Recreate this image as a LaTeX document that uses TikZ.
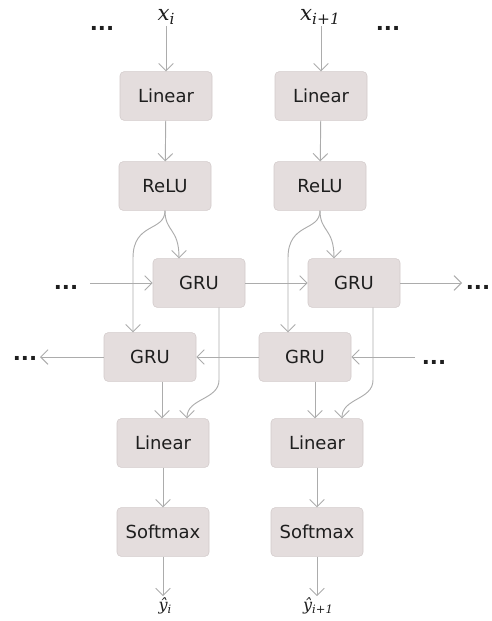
\documentclass[tikz,border=0pt]{standalone}
\usepackage{fontspec}
\setmainfont{DejaVu Sans}
\newfontfamily\lblserif{DejaVu Serif}
\usetikzlibrary{arrows.meta,calc}
\definecolor{boxfill}{RGB}{228,221,221}
\definecolor{boxedge}{RGB}{210,202,202}
\definecolor{wire}{RGB}{172,172,172}
\definecolor{ink}{RGB}{30,30,30}
% italic serif symbol with a lowered index
\newcommand{\symidx}[2]{{\lblserif\itshape #1\raisebox{-0.35ex}{\fontsize{0.72\dimexpr\fontdimen6\font\relax}{1}\selectfont #2}}}
\begin{document}
\begin{tikzpicture}[x=0.75pt,y=-0.75pt,
  layer/.style={draw=boxedge,fill=boxfill,rounded corners=3pt,minimum width=69pt,
    minimum height=36.5pt,inner sep=0pt,text=ink,font=\fontsize{13.5}{16}\selectfont},
  wirearrow/.style={draw=wire,line width=0.7pt,-{Straight Barb[length=5.5pt,width=11pt,line width=0.7pt]}},
  dots/.style={text=ink,font=\bfseries\fontsize{16}{18}\selectfont,inner sep=0pt,anchor=base},
  lbl/.style={text=ink,inner sep=1pt}]
\useasboundingbox (0,0) rectangle (492,621);

% inputs
\node[lbl,font=\fontsize{16}{18}\selectfont] (xi) at (166,17) {\symidx{x}{i}};
\node[lbl,font=\fontsize{16}{18}\selectfont] (xj) at (320,17) {\symidx{x}{i+1}};
\node[dots] (dtl) at (102,31) {...};
\node[dots] (dtr) at (388,31) {...};

% column i
\node[layer] (lin1) at (166,96) {Linear};
\node[layer] (relu1) at (165,186) {ReLU};
\node[layer] (lin3) at (163,443) {Linear};
\node[layer] (soft1) at (163,532) {Softmax};
% column i+1
\node[layer] (lin2) at (321,96) {Linear};
\node[layer] (relu2) at (320,186) {ReLU};
\node[layer] (lin4) at (317,443) {Linear};
\node[layer] (soft2) at (317,532) {Softmax};
% recurrent layers
\node[layer] (gf1) at (199,283) {GRU};
\node[layer] (gf2) at (354,283) {GRU};
\node[layer] (gb1) at (150,357) {GRU};
\node[layer] (gb2) at (305,357) {GRU};

% outputs
\node[lbl,font=\fontsize{12}{14}\selectfont] (y1) at (165,606) {\symidx{ŷ}{i}};
\node[lbl,font=\fontsize{12}{14}\selectfont] (y2) at (318,606) {\symidx{ŷ}{i+1}};

% sequence continuation marks
\node[dots] (dfl) at (66,289) {...};
\node[dots] (dfr) at (478,289) {...};
\node[dots] (dbl) at (25,360) {...};
\node[dots] (dbr) at (434,364) {...};
\coordinate (fin) at (90,283);
\coordinate (fout) at (462,283);
\coordinate (bin) at (415,357);
\coordinate (bout) at (40,357);

% vertical flow
\draw[wirearrow] (xi.south) -- (lin1.north);
\draw[wirearrow] (xj.south -| lin2.north) -- (lin2.north);
\draw[wirearrow] (lin1) -- (relu1);
\draw[wirearrow] (lin2) -- (relu2);
\draw[wirearrow] (lin3) -- (soft1);
\draw[wirearrow] (lin4) -- (soft2);
\draw[wirearrow] (soft1.south) -- (soft1.south |- y1.north);
\draw[wirearrow] (soft2.south) -- (soft2.south |- y2.north);

% ReLU into both recurrent directions
\draw[wirearrow] (relu1.south) .. controls (165,232) and (179,228) .. (gf1.north -| 179,0);
\draw[wirearrow] (relu1.south) .. controls (165,232) and (133,222) .. (133,258) -- (gb1.north -| 133,0);
\draw[wirearrow] (relu2.south) .. controls (320,232) and (334,228) .. (gf2.north -| 334,0);
\draw[wirearrow] (relu2.south) .. controls (320,232) and (288,222) .. (288,258) -- (gb2.north -| 288,0);

% recurrent connections
\draw[wirearrow] (fin) -- (gf1.west);
\draw[wirearrow] (gf1.east) -- (gf2.west);
\draw[wirearrow] (gf2.east) -- (fout);
\draw[wirearrow] (bin) -- (gb2.east);
\draw[wirearrow] (gb2.west) -- (gb1.east);
\draw[wirearrow] (gb1.west) -- (bout);

% both directions into the output layer
\draw[wirearrow] (gb1.south -| 162,0) -- (lin3.north -| 162,0);
\draw[wirearrow] (gb2.south -| 315,0) -- (lin4.north -| 315,0);
\draw[wirearrow] (gf1.south -| 219,0) -- (219,380) .. controls (219,400) and (187,398) .. (lin3.north -| 187,0);
\draw[wirearrow] (gf2.south -| 373,0) -- (373,380) .. controls (373,400) and (342,398) .. (lin4.north -| 342,0);
\end{tikzpicture}
\end{document}
